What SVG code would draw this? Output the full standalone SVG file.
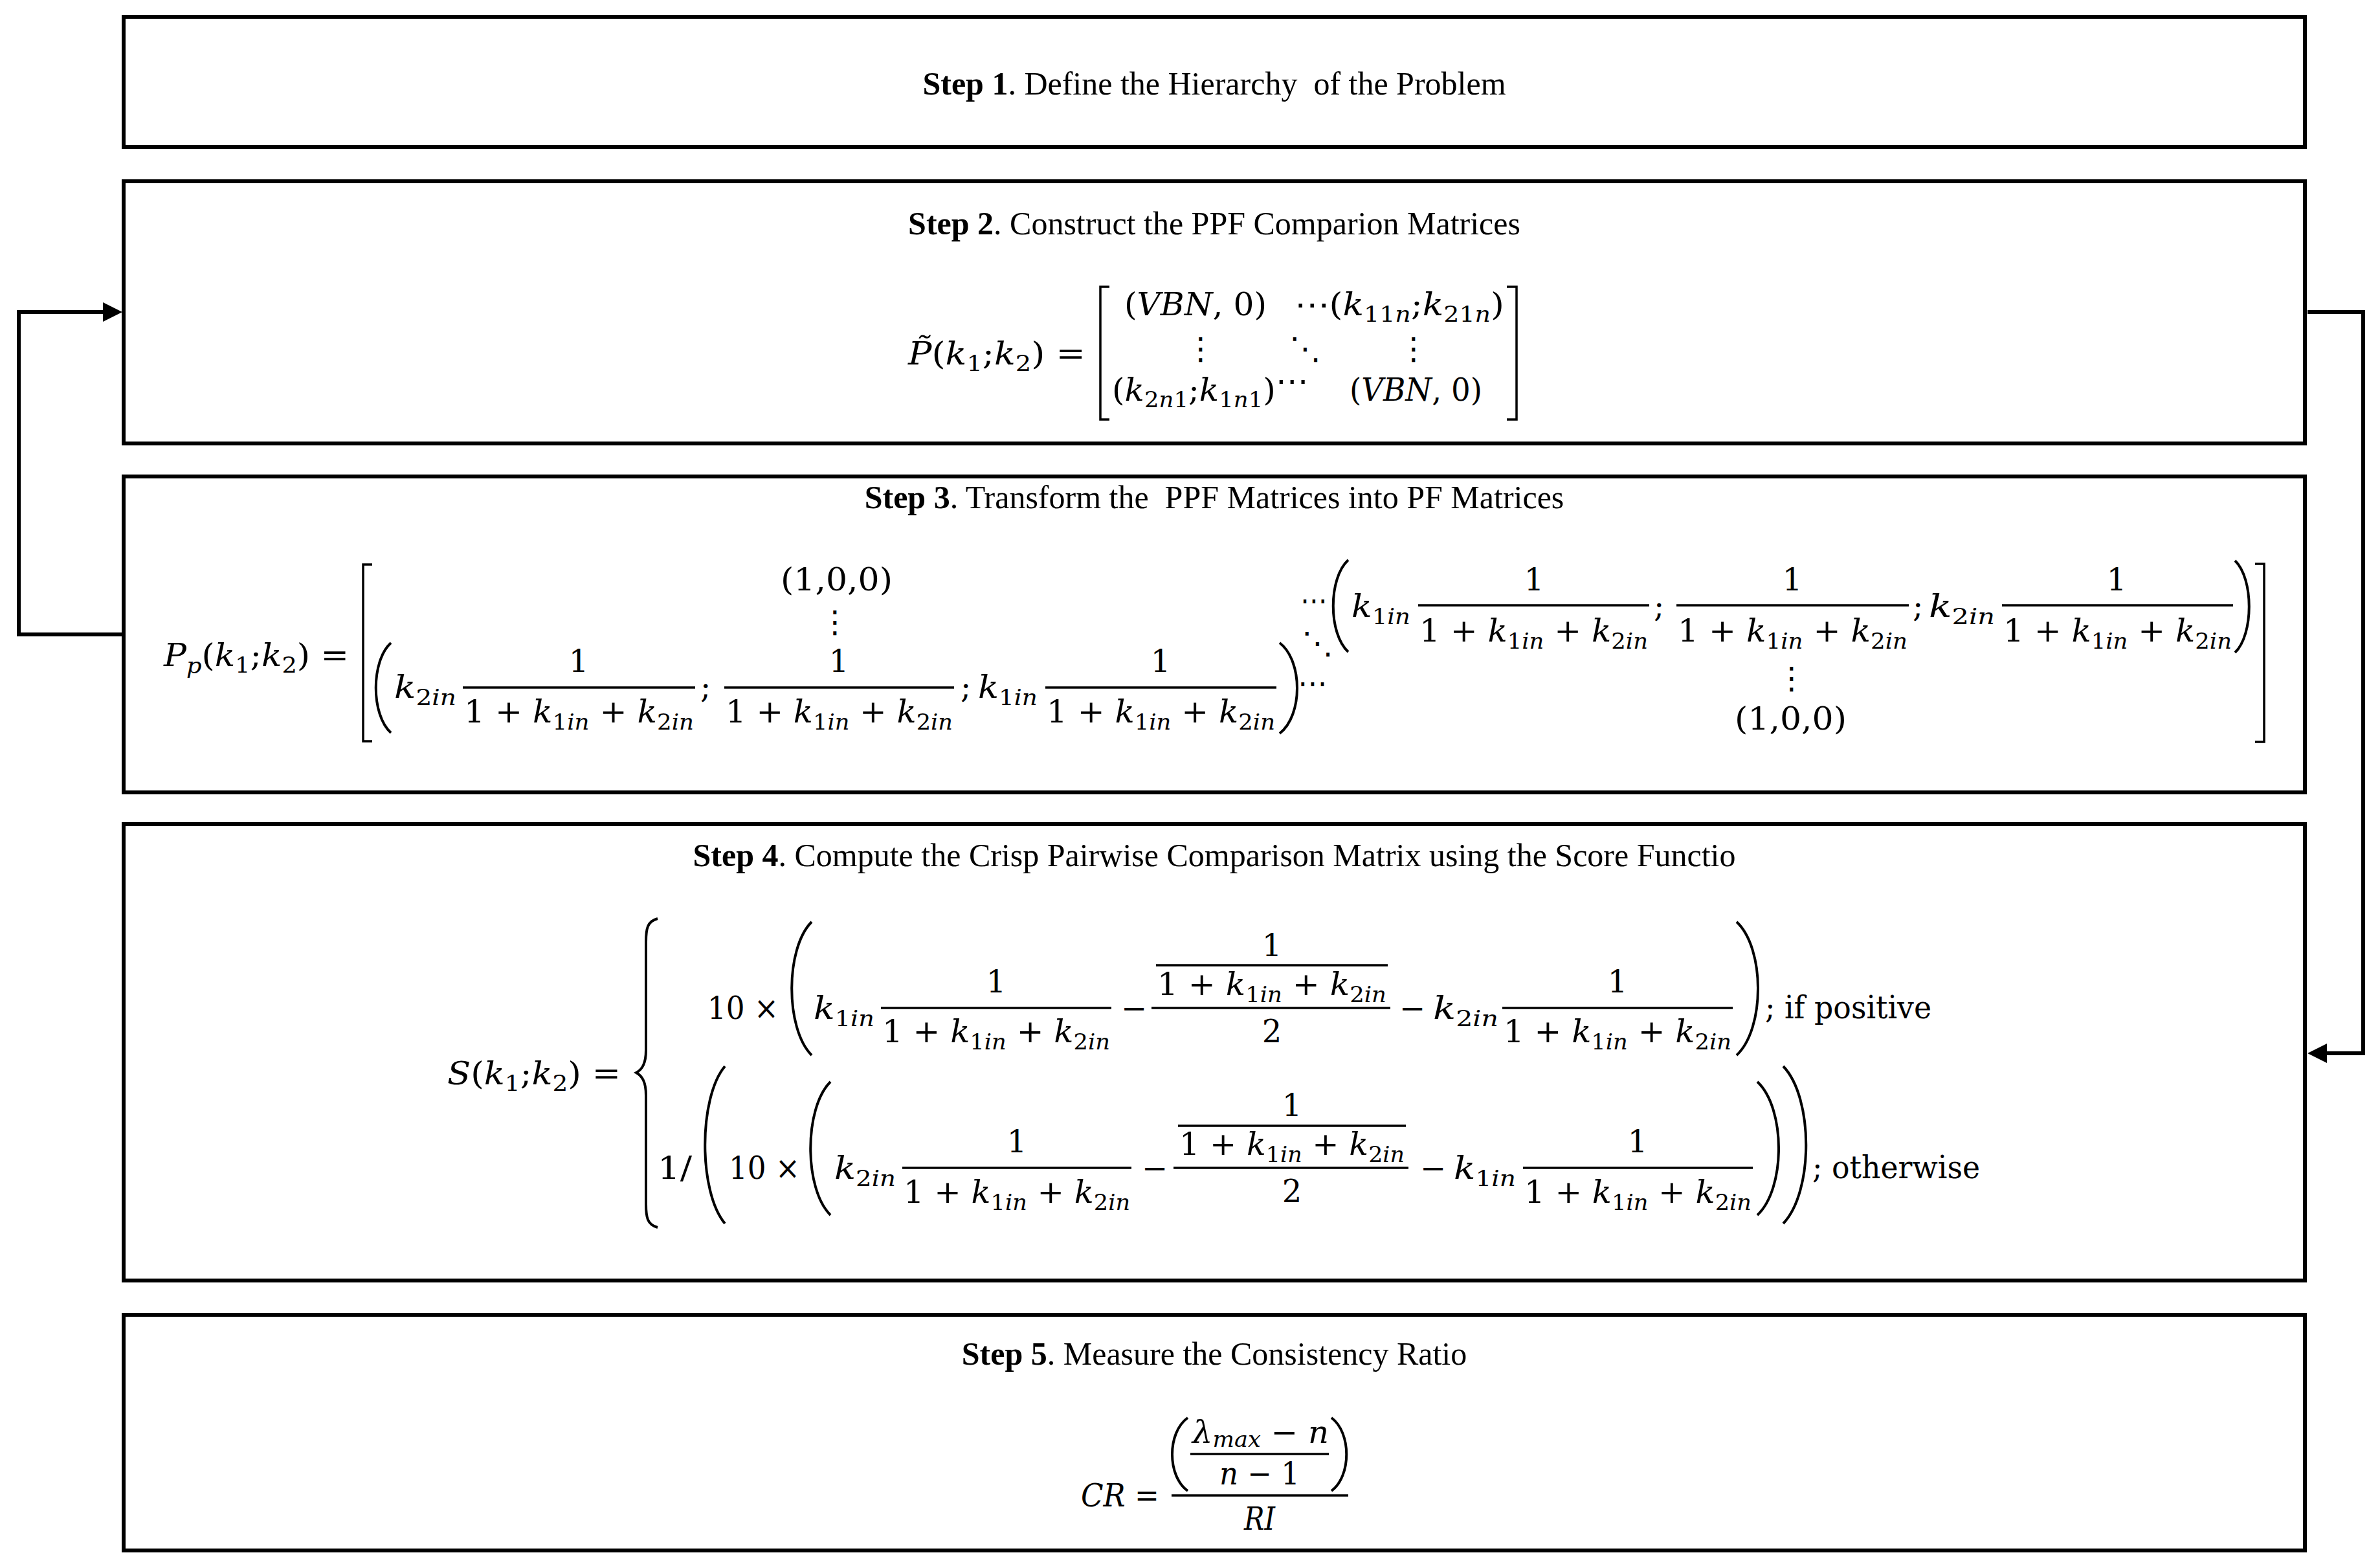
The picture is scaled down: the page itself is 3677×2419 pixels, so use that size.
<svg xmlns="http://www.w3.org/2000/svg" width="3677" height="2419" viewBox="0 0 3677 2419">
<defs>
<style>
.box{fill:#fff;stroke:#000;stroke-width:6}
.t{font-family:"Liberation Serif","Times New Roman",serif;font-size:50px;fill:#000;text-anchor:middle;white-space:pre}
.b{font-weight:bold}
.m{font-family:"DejaVu Serif","DejaVu Sans",serif;font-size:48px;fill:#000}
.c{text-anchor:middle}
.i{font-style:italic}
.s{font-size:34px}
.bar{stroke:#000;stroke-width:3.5}
.del{fill:none;stroke:#000;stroke-width:4}
.brk{fill:none;stroke:#000;stroke-width:3.5}
.conn{fill:none;stroke:#000;stroke-width:6}
</style>
<marker id="arr" viewBox="0 0 30 30" refX="16" refY="15" markerWidth="30" markerHeight="30" markerUnits="userSpaceOnUse" orient="auto"><path d="M0,0 L30,15 L0,30 z" fill="#000"/></marker>
</defs>
<rect width="3677" height="2419" fill="#fff"/>

<g id="connectors">
<path class="conn" d="M189,980 H29 V482 H175" marker-end="url(#arr)"/>
<path class="conn" d="M3565,482 H3651 V1627 H3579" marker-end="url(#arr)"/>
</g>

<g id="step1">
<rect class="box" x="191" y="26" width="3370" height="201"/>
<text class="t" x="1876" y="146"><tspan class="b">Step 1</tspan>. Define the Hierarchy  of the Problem</text>
</g>

<g id="step2">
<rect class="box" x="191" y="280" width="3370" height="405"/>
<text class="t" x="1876" y="362"><tspan class="b">Step 2</tspan>. Construct the PPF Comparion Matrices</text>
<text class="m" x="1403" y="563" textLength="274" lengthAdjust="spacingAndGlyphs"><tspan class="i">P̃</tspan>(<tspan class="i">k</tspan><tspan class="s" dy="10">1</tspan><tspan dy="-10">;</tspan><tspan class="i">k</tspan><tspan class="s" dy="10">2</tspan><tspan dy="-10">) =</tspan></text>
<path class="brk" d="M1714,443 H1700 V648 H1714"/>
<path class="brk" d="M2328,443 H2343 V648 H2328"/>
<text class="m" x="1737" y="487" textLength="220" lengthAdjust="spacingAndGlyphs">(<tspan class="i">VBN</tspan>, 0)</text>
<text class="m" x="2000" y="487" textLength="324" lengthAdjust="spacingAndGlyphs">⋯(<tspan class="i">k</tspan><tspan class="s" dy="10">11<tspan class="i">n</tspan></tspan><tspan dy="-10">;</tspan><tspan class="i">k</tspan><tspan class="s" dy="10">21<tspan class="i">n</tspan></tspan><tspan dy="-10">)</tspan></text>
<text class="m c" x="1855" y="555">⋮</text>
<text class="m c" x="2016" y="555">⋱</text>
<text class="m c" x="2184" y="555">⋮</text>
<text class="m" x="1718" y="619" textLength="303" lengthAdjust="spacingAndGlyphs">(<tspan class="i">k</tspan><tspan class="s" dy="10">2<tspan class="i">n</tspan>1</tspan><tspan dy="-10">;</tspan><tspan class="i">k</tspan><tspan class="s" dy="10">1<tspan class="i">n</tspan>1</tspan><tspan dy="-10">)</tspan><tspan dy="-14">⋯</tspan></text>
<text class="m" x="2085" y="619" textLength="205" lengthAdjust="spacingAndGlyphs">(<tspan class="i">VBN</tspan>, 0)</text>
</g>

<g id="step3">
<rect class="box" x="191" y="736" width="3370" height="488"/>
<text class="t" x="1876" y="785"><tspan class="b">Step 3</tspan>. Transform the  PPF Matrices into PF Matrices</text>
<text class="m" x="253" y="1029" textLength="286" lengthAdjust="spacingAndGlyphs"><tspan class="i">P</tspan><tspan class="s i" dy="11">p</tspan><tspan dy="-11">(</tspan><tspan class="i">k</tspan><tspan class="s" dy="10">1</tspan><tspan dy="-10">;</tspan><tspan class="i">k</tspan><tspan class="s" dy="10">2</tspan><tspan dy="-10">) =</tspan></text>
<path class="brk" d="M575,872 H561 V1145 H575"/>
<path class="brk" d="M3484,871 H3498 V1146 H3484"/>
<text class="m" x="1206" y="912" textLength="173" lengthAdjust="spacingAndGlyphs">(1,0,0)</text>
<text class="m c" x="1290" y="977">⋮</text>
<path class="del" d="M604,993 C573,1021 573,1104 604,1132"/>
<text class="m" x="609" y="1078" textLength="96" lengthAdjust="spacingAndGlyphs"><tspan class="i">k</tspan><tspan class="s" dy="11">2<tspan class="i">in</tspan></tspan></text>
<text class="m c" x="894" y="1038">1</text>
<line class="bar" x1="715" y1="1062" x2="1074" y2="1062"/>
<text class="m" x="717" y="1116" textLength="355" lengthAdjust="spacingAndGlyphs">1 + <tspan class="i">k</tspan><tspan class="s" dy="11">1<tspan class="i">in</tspan></tspan><tspan dy="-11"> + </tspan><tspan class="i">k</tspan><tspan class="s" dy="11">2<tspan class="i">in</tspan></tspan></text>
<text class="m" x="1082" y="1078">;</text>
<text class="m c" x="1296" y="1038">1</text>
<line class="bar" x1="1119" y1="1062" x2="1474" y2="1062"/>
<text class="m" x="1121" y="1116" textLength="351" lengthAdjust="spacingAndGlyphs">1 + <tspan class="i">k</tspan><tspan class="s" dy="11">1<tspan class="i">in</tspan></tspan><tspan dy="-11"> + </tspan><tspan class="i">k</tspan><tspan class="s" dy="11">2<tspan class="i">in</tspan></tspan></text>
<text class="m" x="1484" y="1078">;</text>
<text class="m" x="1511" y="1078" textLength="92" lengthAdjust="spacingAndGlyphs"><tspan class="i">k</tspan><tspan class="s" dy="11">1<tspan class="i">in</tspan></tspan></text>
<text class="m c" x="1793" y="1038">1</text>
<line class="bar" x1="1615" y1="1062" x2="1972" y2="1062"/>
<text class="m" x="1617" y="1116" textLength="353" lengthAdjust="spacingAndGlyphs">1 + <tspan class="i">k</tspan><tspan class="s" dy="11">1<tspan class="i">in</tspan></tspan><tspan dy="-11"> + </tspan><tspan class="i">k</tspan><tspan class="s" dy="11">2<tspan class="i">in</tspan></tspan></text>
<path class="del" d="M1977,993 C2013,1021 2013,1105 1977,1133"/>
<text class="m" x="2005" y="1072" textLength="45" lengthAdjust="spacingAndGlyphs">⋯</text>
<text class="m" x="2009" y="944" textLength="41" lengthAdjust="spacingAndGlyphs">⋯</text>
<text class="m" x="2011" y="1010">⋱</text>
<path class="del" d="M2083,865 C2052,893 2052,979 2083,1007"/>
<text class="m" x="2088" y="953" textLength="91" lengthAdjust="spacingAndGlyphs"><tspan class="i">k</tspan><tspan class="s" dy="11">1<tspan class="i">in</tspan></tspan></text>
<text class="m c" x="2370" y="912">1</text>
<line class="bar" x1="2191" y1="935" x2="2548" y2="935"/>
<text class="m" x="2193" y="991" textLength="353" lengthAdjust="spacingAndGlyphs">1 + <tspan class="i">k</tspan><tspan class="s" dy="11">1<tspan class="i">in</tspan></tspan><tspan dy="-11"> + </tspan><tspan class="i">k</tspan><tspan class="s" dy="11">2<tspan class="i">in</tspan></tspan></text>
<text class="m" x="2555" y="953">;</text>
<text class="m c" x="2769" y="912">1</text>
<line class="bar" x1="2590" y1="935" x2="2949" y2="935"/>
<text class="m" x="2592" y="991" textLength="355" lengthAdjust="spacingAndGlyphs">1 + <tspan class="i">k</tspan><tspan class="s" dy="11">1<tspan class="i">in</tspan></tspan><tspan dy="-11"> + </tspan><tspan class="i">k</tspan><tspan class="s" dy="11">2<tspan class="i">in</tspan></tspan></text>
<text class="m" x="2955" y="953">;</text>
<text class="m" x="2980" y="953" textLength="102" lengthAdjust="spacingAndGlyphs"><tspan class="i">k</tspan><tspan class="s" dy="11">2<tspan class="i">in</tspan></tspan></text>
<text class="m c" x="3270" y="912">1</text>
<line class="bar" x1="3093" y1="935" x2="3450" y2="935"/>
<text class="m" x="3095" y="991" textLength="353" lengthAdjust="spacingAndGlyphs">1 + <tspan class="i">k</tspan><tspan class="s" dy="11">1<tspan class="i">in</tspan></tspan><tspan dy="-11"> + </tspan><tspan class="i">k</tspan><tspan class="s" dy="11">2<tspan class="i">in</tspan></tspan></text>
<path class="del" d="M3453,866 C3482,894 3482,980 3453,1008"/>
<text class="m c" x="2768" y="1064">⋮</text>
<text class="m" x="2680" y="1127" textLength="173" lengthAdjust="spacingAndGlyphs">(1,0,0)</text>
</g>

<g id="step4">
<rect class="box" x="191" y="1273" width="3370" height="705"/>
<text class="t" x="1876" y="1338"><tspan class="b">Step 4</tspan>. Compute the Crisp Pairwise Comparison Matrix using the Score Functio</text>
<text class="m" x="691" y="1675" textLength="268" lengthAdjust="spacingAndGlyphs"><tspan class="i">S</tspan>(<tspan class="i">k</tspan><tspan class="s" dy="10">1</tspan><tspan dy="-10">;</tspan><tspan class="i">k</tspan><tspan class="s" dy="10">2</tspan><tspan dy="-10">) =</tspan></text>
<path class="del" d="M1016,1419 C1000,1423 998,1435 998,1455 L998,1622 C998,1643 992,1652 983,1657 C992,1662 998,1671 998,1692 L998,1860 C998,1880 1000,1892 1016,1896"/>
<text class="m" x="1093" y="1574" textLength="110" lengthAdjust="spacingAndGlyphs">10 ×</text>
<path class="del" d="M1254,1424 C1213,1465 1213,1589 1254,1630"/>
<text class="m" x="1257" y="1574" textLength="94" lengthAdjust="spacingAndGlyphs"><tspan class="i">k</tspan><tspan class="s" dy="11">1<tspan class="i">in</tspan></tspan></text>
<text class="m c" x="1539" y="1533">1</text>
<line class="bar" x1="1361" y1="1557" x2="1717" y2="1557"/>
<text class="m" x="1363" y="1610" textLength="352" lengthAdjust="spacingAndGlyphs">1 + <tspan class="i">k</tspan><tspan class="s" dy="11">1<tspan class="i">in</tspan></tspan><tspan dy="-11"> + </tspan><tspan class="i">k</tspan><tspan class="s" dy="11">2<tspan class="i">in</tspan></tspan></text>
<text class="m c" x="1752" y="1574">−</text>
<text class="m c" x="1965" y="1477">1</text>
<line class="bar" x1="1786" y1="1491" x2="2144" y2="1491"/>
<text class="m" x="1788" y="1537" textLength="354" lengthAdjust="spacingAndGlyphs">1 + <tspan class="i">k</tspan><tspan class="s" dy="11">1<tspan class="i">in</tspan></tspan><tspan dy="-11"> + </tspan><tspan class="i">k</tspan><tspan class="s" dy="11">2<tspan class="i">in</tspan></tspan></text>
<line class="bar" x1="1779" y1="1557" x2="2148" y2="1557"/>
<text class="m c" x="1965" y="1610">2</text>
<text class="m c" x="2182" y="1574">−</text>
<text class="m" x="2214" y="1574" textLength="101" lengthAdjust="spacingAndGlyphs"><tspan class="i">k</tspan><tspan class="s" dy="11">2<tspan class="i">in</tspan></tspan></text>
<text class="m c" x="2499" y="1533">1</text>
<line class="bar" x1="2321" y1="1557" x2="2677" y2="1557"/>
<text class="m" x="2323" y="1610" textLength="352" lengthAdjust="spacingAndGlyphs">1 + <tspan class="i">k</tspan><tspan class="s" dy="11">1<tspan class="i">in</tspan></tspan><tspan dy="-11"> + </tspan><tspan class="i">k</tspan><tspan class="s" dy="11">2<tspan class="i">in</tspan></tspan></text>
<path class="del" d="M2683,1424 C2727,1465 2727,1589 2683,1630"/>
<text class="m" x="2727" y="1573" textLength="257" lengthAdjust="spacingAndGlyphs">; if positive</text>

<text class="m" x="1016" y="1821" textLength="53" lengthAdjust="spacingAndGlyphs">1/</text>
<path class="del" d="M1120,1647 C1079,1696 1079,1841 1120,1890"/>
<text class="m" x="1126" y="1821" textLength="110" lengthAdjust="spacingAndGlyphs">10 ×</text>
<path class="del" d="M1283,1671 C1242,1712 1242,1836 1283,1877"/>
<text class="m" x="1289" y="1821" textLength="95" lengthAdjust="spacingAndGlyphs"><tspan class="i">k</tspan><tspan class="s" dy="11">2<tspan class="i">in</tspan></tspan></text>
<text class="m c" x="1571" y="1780">1</text>
<line class="bar" x1="1394" y1="1804" x2="1748" y2="1804"/>
<text class="m" x="1396" y="1858" textLength="350" lengthAdjust="spacingAndGlyphs">1 + <tspan class="i">k</tspan><tspan class="s" dy="11">1<tspan class="i">in</tspan></tspan><tspan dy="-11"> + </tspan><tspan class="i">k</tspan><tspan class="s" dy="11">2<tspan class="i">in</tspan></tspan></text>
<text class="m c" x="1784" y="1821">−</text>
<text class="m c" x="1996" y="1724">1</text>
<line class="bar" x1="1820" y1="1739" x2="2172" y2="1739"/>
<text class="m" x="1822" y="1784" textLength="348" lengthAdjust="spacingAndGlyphs">1 + <tspan class="i">k</tspan><tspan class="s" dy="11">1<tspan class="i">in</tspan></tspan><tspan dy="-11"> + </tspan><tspan class="i">k</tspan><tspan class="s" dy="11">2<tspan class="i">in</tspan></tspan></text>
<line class="bar" x1="1813" y1="1804" x2="2176" y2="1804"/>
<text class="m c" x="1996" y="1857">2</text>
<text class="m c" x="2214" y="1821">−</text>
<text class="m" x="2246" y="1821" textLength="96" lengthAdjust="spacingAndGlyphs"><tspan class="i">k</tspan><tspan class="s" dy="11">1<tspan class="i">in</tspan></tspan></text>
<text class="m c" x="2530" y="1780">1</text>
<line class="bar" x1="2353" y1="1804" x2="2708" y2="1804"/>
<text class="m" x="2355" y="1858" textLength="351" lengthAdjust="spacingAndGlyphs">1 + <tspan class="i">k</tspan><tspan class="s" dy="11">1<tspan class="i">in</tspan></tspan><tspan dy="-11"> + </tspan><tspan class="i">k</tspan><tspan class="s" dy="11">2<tspan class="i">in</tspan></tspan></text>
<path class="del" d="M2715,1671 C2759,1712 2759,1836 2715,1877"/>
<path class="del" d="M2755,1647 C2802,1696 2802,1841 2755,1890"/>
<text class="m" x="2800" y="1820" textLength="259" lengthAdjust="spacingAndGlyphs">; otherwise</text>
</g>

<g id="step5">
<rect class="box" x="191" y="2031" width="3370" height="364"/>
<text class="t" x="1876" y="2108"><tspan class="b">Step 5</tspan>. Measure the Consistency Ratio</text>
<text class="m" x="1670" y="2327" textLength="121" lengthAdjust="spacingAndGlyphs"><tspan class="i">CR</tspan> =</text>
<path class="del" d="M1835,2190 C1803,2213 1803,2280 1835,2303"/>
<text class="m" x="1842" y="2229" textLength="211" lengthAdjust="spacingAndGlyphs"><tspan class="i">λ</tspan><tspan class="s i" dy="6">max</tspan><tspan dy="-6"> − </tspan><tspan class="i">n</tspan></text>
<line class="bar" x1="1839" y1="2246" x2="2053" y2="2246"/>
<text class="m" x="1884" y="2293" textLength="124" lengthAdjust="spacingAndGlyphs"><tspan class="i">n</tspan> − 1</text>
<path class="del" d="M2057,2190 C2088,2213 2088,2280 2057,2303"/>
<line class="bar" x1="1810" y1="2310" x2="2083" y2="2310"/>
<text class="m" x="1922" y="2363" textLength="48" lengthAdjust="spacingAndGlyphs" font-style="italic">RI</text>
</g>
</svg>
